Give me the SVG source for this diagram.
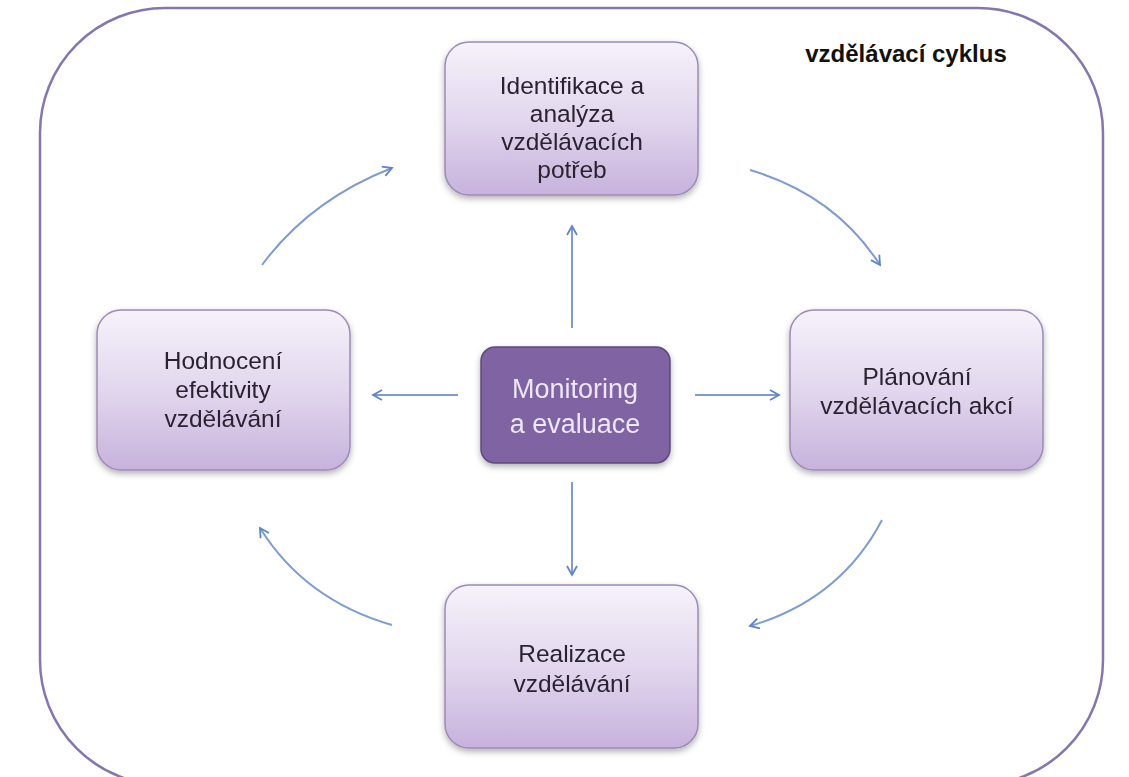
<svg xmlns="http://www.w3.org/2000/svg" width="1129" height="777" viewBox="0 0 1129 777">
<style>
.node{fill:url(#g);stroke:#9c8bb8;stroke-width:1.5}
.t{font-family:"Liberation Sans",Arial,sans-serif;font-size:24.5px;fill:#2a2430;text-anchor:middle}
.c{font-family:"Liberation Sans",Arial,sans-serif;font-size:27px;fill:#eee6f5;text-anchor:middle}
.a{fill:none;stroke:#7f9bd0;stroke-width:2;marker-end:url(#m)}
</style>
<defs>
<linearGradient id="g" x1="0" y1="0" x2="0" y2="1">
<stop offset="0" stop-color="#f6f2fa"/>
<stop offset="0.5" stop-color="#e2d7ee"/>
<stop offset="1" stop-color="#c7b2dc"/>
</linearGradient>
<filter id="s" x="-10%" y="-10%" width="120%" height="130%">
<feDropShadow dx="0" dy="3" stdDeviation="3" flood-color="#000" flood-opacity="0.3"/>
</filter>
<marker id="m" viewBox="0 0 12 12" refX="10" refY="6" markerWidth="12" markerHeight="12" markerUnits="userSpaceOnUse" orient="auto">
<path d="M1,1 L10,6 L1,11" fill="none" stroke="#5e85c8" stroke-width="1.8"/>
</marker>
</defs>
<rect width="1129" height="777" fill="#fff"/>
<rect x="40" y="8" width="1063" height="777" rx="125" fill="none" stroke="#8577ad" stroke-width="2.5"/>
<text x="906" y="62" font-family="'Liberation Sans',Arial,sans-serif" font-size="24" font-weight="bold" text-anchor="middle" fill="#111">vzdělávací cyklus</text>
<g id="connectors">
<path class="a" d="M572,328 L572,226"/>
<path class="a" d="M572,482 L572,575"/>
<path class="a" d="M458,395 L373,395"/>
<path class="a" d="M695,395 L779,395"/>
<path class="a" d="M262,265 Q310,200 392,168"/>
<path class="a" d="M750,170 Q835,195 880,265"/>
<path class="a" d="M882,520 Q840,600 750,626"/>
<path class="a" d="M392,625 Q305,600 260,528"/>
</g>
<g id="n1" filter="url(#s)">
<rect class="node" x="445" y="42" width="253" height="153" rx="24"/>
<text class="t" x="572" y="94">Identifikace a</text>
<text class="t" x="572" y="122">analýza</text>
<text class="t" x="572" y="150">vzdělávacích</text>
<text class="t" x="572" y="178">potřeb</text>
</g>
<g id="n2" filter="url(#s)">
<rect class="node" x="790" y="310" width="253" height="160" rx="24"/>
<text class="t" x="917" y="385">Plánování</text>
<text class="t" x="917" y="414">vzdělávacích akcí</text>
</g>
<g id="n3" filter="url(#s)">
<rect class="node" x="445" y="585" width="253" height="163" rx="24"/>
<text class="t" x="572" y="662">Realizace</text>
<text class="t" x="572" y="692">vzdělávání</text>
</g>
<g id="n4" filter="url(#s)">
<rect class="node" x="97" y="310" width="253" height="160" rx="24"/>
<text class="t" x="223" y="369">Hodnocení</text>
<text class="t" x="223" y="398">efektivity</text>
<text class="t" x="223" y="427">vzdělávání</text>
</g>
<g id="center" filter="url(#s)">
<rect x="481" y="347" width="189" height="116" rx="14" fill="#8064a2" stroke="#5e4a7c" stroke-width="1.5"/>
<text class="c" x="575" y="398">Monitoring</text>
<text class="c" x="575" y="433">a evaluace</text>
</g>
</svg>
